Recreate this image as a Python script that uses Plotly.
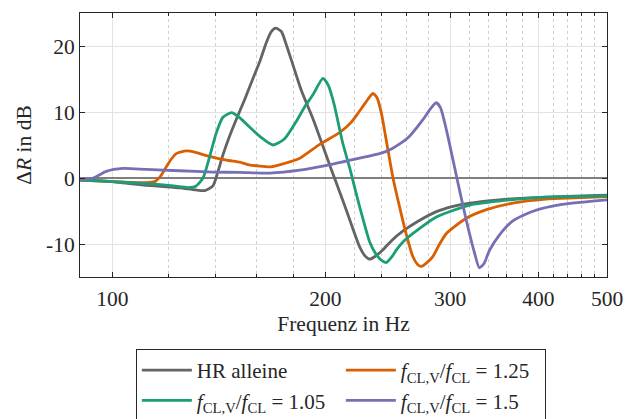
import numpy as np
import plotly.graph_objects as go

# ---- data ----
freq_hr = [90, 95, 100, 105, 111.7, 118, 124.5, 131, 135, 138.7, 141, 143.3, 146.5, 149.7, 153.8,
           157.9, 161.5, 165, 167.8, 170.1, 173.3, 176.1, 180, 184.9, 192, 202.6, 206, 214, 223.5,
           227.5, 231, 235, 241, 248, 257, 270, 287, 303, 320, 352, 410, 450, 500]
dr_hr = [-0.3, -0.4, -0.55, -0.8, -1.1, -1.3, -1.5, -1.8, -1.9, -1.2, 1.0, 3.5, 6.4, 8.9, 11.9,
         15.0, 17.6, 20.5, 22.2, 22.7, 22.2, 20.2, 17.1, 13.3, 9.0, 2.1, 0.0, -4.8, -10.4,
         -11.8, -12.3, -11.9, -10.9, -9.5, -8.1, -6.6, -5.1, -4.3, -3.8, -3.3, -2.9, -2.75, -2.6]

freq_105 = [90, 100, 111.7, 118, 124.5, 128, 131, 134.3, 137.2, 140.2, 143.3, 147.4, 151.4, 156,
            162, 168.6, 175, 182, 187, 192, 198.4, 202, 205.6, 211.6, 216.5, 221, 226, 231, 236,
            241, 244, 248, 252, 258, 266, 287, 320, 352, 410, 500]
dr_105 = [-0.3, -0.55, -0.85, -1.05, -1.3, -1.45, -1.3, 0.0, 3.2, 6.8, 9.2, 9.9, 9.1, 7.8,
          6.2, 5.0, 5.9, 8.6, 10.8, 12.6, 15.1, 14.0, 11.3, 5.3, 1.5, -2.3, -6.2, -9.7, -11.6,
          -12.6, -12.8, -12.0, -10.9, -9.6, -8.4, -5.9, -4.1, -3.5, -2.9, -2.7]

freq_125 = [90, 100, 106, 111.7, 114.7, 117, 119.2, 121, 123.1, 127.2, 131, 135.8, 145, 151.4,
            156, 167.6, 175, 184, 196.3, 209.6, 217.8, 222, 227.5, 231, 233.5, 236.5, 240, 244,
            249, 254.5, 260, 265.8, 270, 273, 277, 283.7, 290, 296.5, 316.3, 337.8, 368, 410,
            450, 500]
dr_125 = [-0.3, -0.55, -0.65, -0.72, -0.55, 0.3, 1.7, 2.8, 3.7, 4.1, 3.9, 3.4, 2.7, 2.4,
          2.0, 1.7, 2.2, 3.0, 5.1, 6.9, 8.5, 9.7, 11.3, 12.3, 12.8, 12.2, 9.8, 5.5,
          0.2, -4.3, -8.4, -11.9, -13.1, -13.4, -13.0, -11.9, -10.0, -8.4, -6.1, -4.8, -3.8, -3.2,
          -3.0, -2.8]

freq_15 = [90, 94, 98, 103.5, 111.7, 124.5, 138.7, 151.4, 166.9, 184, 202.6, 223.5, 238.6, 246, 255,
           262.8, 274.5, 282, 286.9, 291, 296.5, 306.5, 316.3, 325, 330, 335, 341, 352, 368, 394,
           432, 500]
dr_15 = [-0.3, 0.0, 1.0, 1.45, 1.3, 1.1, 0.9, 0.85, 0.75, 1.2, 2.0, 3.0, 3.7, 4.2, 5.2,
         6.3, 8.8, 10.6, 11.4, 10.6, 7.3, 0.2, -6.4, -11.4, -13.6, -13.0, -11.0, -8.7, -6.5, -5.0,
         -4.0, -3.3]

series = [
    ("HR alleine", freq_hr, dr_hr, "#646464"),
    ("<i>f</i><sub>CL,V</sub>/<i>f</i><sub>CL</sub> = 1.25", freq_125, dr_125, "#d95f02"),
    ("<i>f</i><sub>CL,V</sub>/<i>f</i><sub>CL</sub> = 1.05", freq_105, dr_105, "#1b9e77"),
    ("<i>f</i><sub>CL,V</sub>/<i>f</i><sub>CL</sub> = 1.5", freq_15, dr_15, "#7570b3"),
]

x_ticks = [100, 200, 300, 400, 500]
x_minor = [120, 140, 160, 180, 220, 240, 260, 280, 320, 340, 360, 380, 420, 440, 460, 480]
y_ticks = [-10, 0, 10, 20]
y_ticktext = ["-10", "0", "10", "20"]

FONT = "Liberation Serif"

fig = go.Figure()
for name, fx, fy, col in series:
    fig.add_trace(go.Scatter(x=fx, y=fy, mode="lines", name=name,
                             line=dict(color=col, width=2.8, shape="spline", smoothing=0.6)))

axis_common = dict(
    showline=True, linecolor="#262626", linewidth=1, mirror="allticks",
    ticks="inside", ticklen=5, tickcolor="#262626",
    gridcolor="#e3e3e3", gridwidth=1,
    tickfont=dict(family=FONT, size=21.5, color="#262626"),
    title_font=dict(family=FONT, size=21.5, color="#262626"),
)

fig.update_layout(
    width=635, height=419,
    margin=dict(l=80, r=28, t=13, b=142, autoexpand=False),
    paper_bgcolor="white", plot_bgcolor="white",
    font=dict(family=FONT, size=21, color="#262626"),
    xaxis=dict(type="log", range=[np.log10(90), np.log10(500)],
               tickmode="array", tickvals=x_ticks, ticktext=[str(v) for v in x_ticks],
               ticklabelstandoff=2,
               title=dict(text="Frequenz in Hz", standoff=6),
               minor=dict(tickmode="array", tickvals=x_minor, ticks="inside", ticklen=3,
                          tickcolor="#262626", showgrid=True, griddash="dot",
                          gridcolor="#d0d0d0", gridwidth=1),
               **axis_common),
    yaxis=dict(range=[-15, 25], tickmode="array", tickvals=y_ticks, ticktext=y_ticktext,
               zeroline=True, zerolinecolor="#7f7f7f", zerolinewidth=1.5,
               title=dict(text="Δ<i>R</i> in dB", standoff=8),
               **axis_common),
    legend=dict(orientation="h", x=0.106, xanchor="left", y=-0.2727, yanchor="top",
                bgcolor="white", bordercolor="#262626", borderwidth=1,
                font=dict(family=FONT, size=21, color="#262626"),
                itemwidth=50, entrywidth=139, tracegroupgap=0),
    showlegend=True,
)

fig.write_html("out.html")
